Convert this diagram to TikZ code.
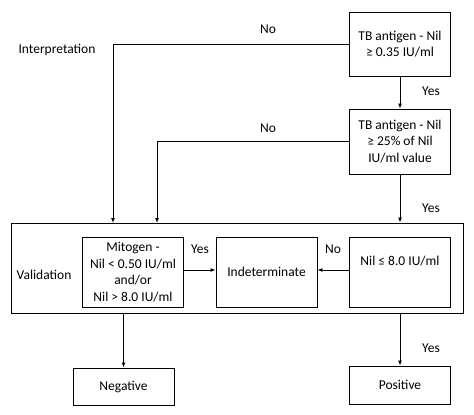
\documentclass[tikz,border=0pt]{standalone}
\usepackage{fontspec}
\setmainfont{Carlito}
\usetikzlibrary{positioning,arrows.meta,calc}

\tikzset{
  stepbox/.style={draw, line width=0.9pt, minimum width=101pt, align=center, inner sep=2pt},
  lbl/.style={font=\fontsize{13.5}{16.5}\selectfont},
  flow/.style={-{Latex[length=5pt,width=4pt]}, line width=0.9pt}
}

\begin{document}
\begin{tikzpicture}[x=1pt, y=-1pt, font=\fontsize{13.5}{16.5}\selectfont]
\useasboundingbox (0,0) rectangle (474,415);

% Interpretation stage
\node[stepbox, minimum height=64pt] (ant1) at (400,44) {TB antigen - Nil\\≥ 0.35 IU/ml};
\node[stepbox, minimum height=65pt] (ant2) at (400,141.5) {TB antigen - Nil\\≥ 25\% of Nil\\IU/ml value};
\node[lbl] (interp) at (57,50) {Interpretation};

% Validation frame
\node[draw, line width=0.9pt, minimum width=452pt, minimum height=90pt] (valid) at (237,268) {};
\node[lbl] (vlabel) at (44,275) {Validation};
\node[stepbox, minimum height=70pt] (mito) at (133,272) {Mitogen -\\Nil < 0.50 IU/ml\\and/or\\Nil > 8.0 IU/ml};
\node[stepbox, minimum height=70pt] (indet) at (266.5,272) {Indeterminate};
\node[stepbox, minimum height=70pt] (nil) at (400,272) {Nil ≤ 8.0 IU/ml\\[6pt]};

% Outcomes
\node[stepbox, minimum height=37pt] (neg) at (123.5,386.5) {Negative};
\node[stepbox, minimum height=38pt] (pos) at (400,385) {Positive};

% Connectors
\coordinate (no1end) at (113,223);
\coordinate (no2end) at (157,223);
\draw[flow] (ant1.west) -| (no1end);
\draw[flow] (ant2.west) -| (no2end);
\draw[flow] (ant1) -- (ant2);
\draw[flow] (ant2) -- (ant2 |- valid.north);
\draw[flow] (mito.east |- 0,270) -- (indet.west |- 0,270);
\draw[flow] (nil.west |- 0,270) -- (indet.east |- 0,270);
\draw[flow] (neg |- valid.south) -- (neg);
\draw[flow] (pos |- valid.south) -- (pos);

% Branch labels
\node[lbl] (no1) at (268,29) {No};
\node[lbl] (no2) at (268,128) {No};
\node[lbl] (yes1) at (431,91) {Yes};
\node[lbl] (yes2) at (431,208) {Yes};
\node[lbl] (yes3) at (200,249) {Yes};
\node[lbl] (no3) at (333,249) {No};
\node[lbl] (yes4) at (431,348) {Yes};
\end{tikzpicture}
\end{document}
